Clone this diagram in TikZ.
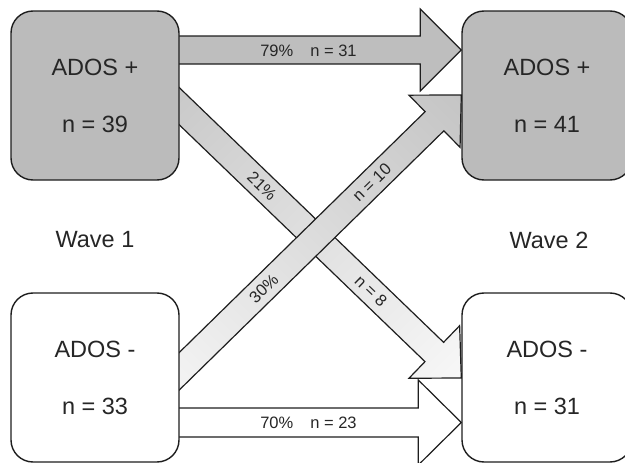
\documentclass[tikz,border=0pt]{standalone}
\usepackage{fontspec}
\setmainfont{Liberation Sans}
\usetikzlibrary{calc,backgrounds}
\definecolor{boxgray}{HTML}{BBBBBB}
\definecolor{arrgray}{HTML}{BEBEBE}
\definecolor{shadegray}{HTML}{C0C0C0}
\definecolor{arrlight}{HTML}{FCFCFC}
\definecolor{linec}{HTML}{1E1E1E}
\pgfdeclareverticalshading{diagfade}{100bp}{color(0bp)=(arrlight); color(8bp)=(arrlight); color(92bp)=(shadegray); color(100bp)=(shadegray)}
% #1 style, #2 start, #3 tip, #4 shaft half width, #5 head half width, #6 head length
\newcommand\blockarrow[6]{%
  \coordinate (ba-h) at ($(#3)!#6!(#2)$);
  \path[#1] ($(#2)!#4!90:(#3)$) -- ($(ba-h)!#4!90:(#3)$) -- ($(ba-h)!#5!90:(#3)$)
    -- (#3) -- ($(ba-h)!#5!-90:(#3)$) -- ($(ba-h)!#4!-90:(#3)$) -- ($(#2)!#4!-90:(#3)$) -- cycle;
}
\tikzset{
  box/.style={draw=linec, line width=1.4pt, rounded corners=22pt, align=center,
    font=\fontsize{23.5}{57}\selectfont, text=black!85},
  arrowbody/.style={draw=linec, line width=1.2pt, line join=miter},
  lbl/.style={font=\fontsize{16.5}{18}\selectfont, text=black!85, inner sep=0pt},
  wave/.style={font=\fontsize{23.5}{26}\selectfont, text=black!85},
}
\begin{document}
\begin{tikzpicture}[x=1pt,y=-1pt]
\useasboundingbox (0,0) rectangle (625,463);
\node[box, fill=boxgray, minimum width=168pt, minimum height=169pt] (tl) at (95,95.5) {ADOS +\\n = 39};
\node[box, fill=boxgray, minimum width=170pt, minimum height=169pt] (tr) at (547,95.5) {ADOS +\\n = 41};
\node[box, fill=white, minimum width=168pt, minimum height=169pt] (bl) at (95,377.5) {ADOS -\\n = 33};
\node[box, fill=white, minimum width=170pt, minimum height=169pt] (br) at (547,377.5) {ADOS -\\n = 31};
\node[wave] (w1) at (95,240) {Wave 1};
\node[wave] (w2) at (549,240) {Wave 2};

\coordinate (a1s) at (170,50);
\coordinate (a1e) at (a1s -| tr.west);
\coordinate (a4s) at (170,422.5);
\coordinate (a4e) at (a4s -| br.west);
\coordinate (a2s) at (150,78);
\coordinate (a2e) at (br.west |- 0,378);
\coordinate (a3s) at (155,395);
\coordinate (a3e) at (tr.west |- 0,95);

\begin{scope}[on background layer]
  \blockarrow{arrowbody, fill=arrgray}{a1s}{a1e}{14pt}{41pt}{41pt}
  \blockarrow{arrowbody, fill=white}{a4s}{a4e}{14.5pt}{42.5pt}{43pt}
  \blockarrow{arrowbody, shade, shading=diagfade, shading angle=45}{a2s}{a2e}{13.4pt}{36.5pt}{37.5pt}
  \blockarrow{arrowbody, shade, shading=diagfade, shading angle=-45}{a3s}{a3e}{13.4pt}{36.5pt}{37.5pt}
\end{scope}

\node[lbl] (l1) at (308.5,51) {79\%\hspace{17pt}n = 31};
\node[lbl] (l4) at (308.5,423) {70\%\hspace{17pt}n = 23};
\node[lbl, rotate=-43.8] (l2a) at ($(a2s)!0.36!(a2e)$) {21\%};
\node[lbl, rotate=-43.8] (l2b) at ($(a2s)!0.71!(a2e)$) {n = 8};
\node[lbl, rotate=44.3] (l3a) at ($(a3s)!0.355!(a3e)$) {30\%};
\node[lbl, rotate=44.3] (l3b) at ($(a3s)!0.708!(a3e)$) {n = 10};
\end{tikzpicture}
\end{document}
